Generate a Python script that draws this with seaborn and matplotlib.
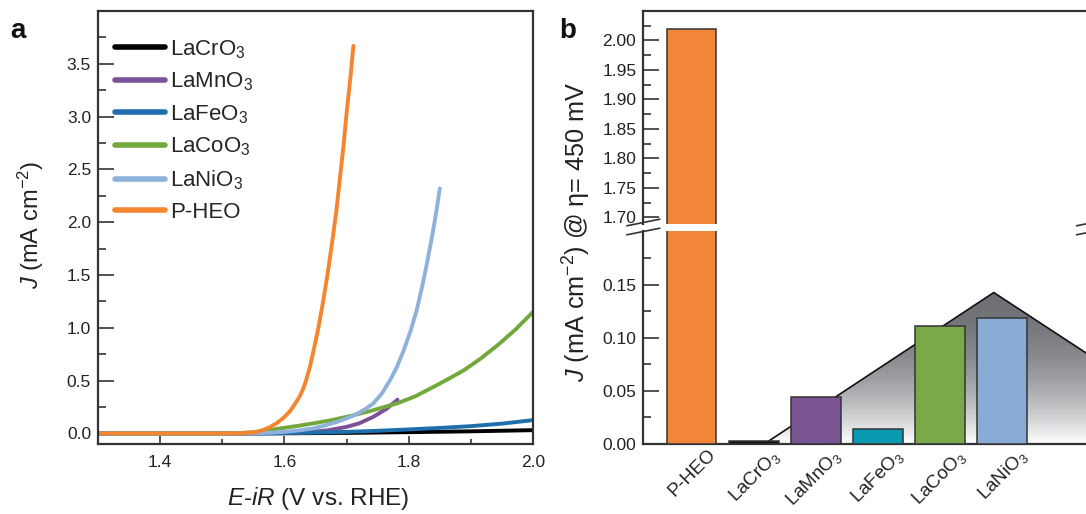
import numpy as np
import pandas as pd
import matplotlib
matplotlib.use("Agg")
import matplotlib.pyplot as plt
import matplotlib.transforms as mtransforms
import seaborn as sns
from matplotlib.lines import Line2D
from matplotlib.patches import Polygon
from matplotlib.ticker import FormatStrFormatter

# ---------------- data: panel a (LSV curves) ----------------
samples = ["LaCrO3", "LaMnO3", "LaFeO3", "LaCoO3", "LaNiO3", "P-HEO"]
sample_labels = ["LaCrO$_3$", "LaMnO$_3$", "LaFeO$_3$", "LaCoO$_3$", "LaNiO$_3$", "P-HEO"]
line_colors = ["#000000", "#7a5195", "#1f6fad", "#73a83c", "#8fb2dc", "#f5852f"]

v_cr = [1.30, 1.50, 1.60, 1.70, 1.80, 1.90, 2.00]
j_cr = [0.0, 0.0, 0.001, 0.005, 0.012, 0.020, 0.031]

v_mn = [1.30, 1.55, 1.60, 1.625, 1.646, 1.67, 1.70, 1.72, 1.743, 1.765, 1.782]
j_mn = [0.0, 0.0, 0.004, 0.008, 0.015, 0.030, 0.062, 0.095, 0.157, 0.236, 0.32]

v_fe = [1.30, 1.55, 1.60, 1.65, 1.70, 1.75, 1.80, 1.85, 1.90, 1.95, 2.00]
j_fe = [0.0, 0.0, 0.003, 0.008, 0.015, 0.025, 0.038, 0.052, 0.069, 0.093, 0.126]

v_co = [1.30, 1.50, 1.53, 1.55, 1.57, 1.592, 1.62, 1.646, 1.675, 1.70, 1.74, 1.781,
        1.81, 1.835, 1.862, 1.889, 1.916, 1.943, 1.972, 2.00]
j_co = [0.0, 0.0, 0.005, 0.012, 0.025, 0.047, 0.070, 0.095, 0.125, 0.157, 0.215, 0.284,
        0.35, 0.426, 0.51, 0.599, 0.71, 0.835, 0.985, 1.15]

v_ni = [1.30, 1.55, 1.575, 1.60, 1.625, 1.646, 1.665, 1.685, 1.70, 1.715, 1.73, 1.743,
        1.757, 1.770, 1.781, 1.792, 1.803, 1.813, 1.822, 1.830, 1.838, 1.845, 1.850]
j_ni = [0.0, 0.0, 0.006, 0.015, 0.030, 0.047, 0.075, 0.11, 0.142, 0.18, 0.23, 0.284,
        0.38, 0.504, 0.63, 0.788, 0.97, 1.17, 1.40, 1.63, 1.88, 2.12, 2.32]

v_pheo = [1.30, 1.50, 1.53, 1.543, 1.555, 1.565, 1.576, 1.587, 1.598, 1.608, 1.616, 1.624,
          1.630, 1.635, 1.641, 1.646, 1.654, 1.662, 1.670, 1.678, 1.684, 1.689, 1.695,
          1.700, 1.706, 1.711]
j_pheo = [0.0, 0.0, 0.002, 0.006, 0.015, 0.031, 0.058, 0.095, 0.145, 0.204, 0.27, 0.346,
          0.42, 0.504, 0.63, 0.76, 0.98, 1.24, 1.53, 1.86, 2.13, 2.40, 2.72,
          3.03, 3.36, 3.67]

# ---------------- data: panel b (bars) ----------------
bar_names = ["P-HEO", "LaCrO3", "LaMnO3", "LaFeO3", "LaCoO3", "LaNiO3"]
bar_labels = ["P-HEO", "LaCrO$_3$", "LaMnO$_3$", "LaFeO$_3$", "LaCoO$_3$", "LaNiO$_3$"]
bar_values = [2.019, 0.003, 0.0445, 0.0144, 0.1108, 0.1186]
bar_colors = ["#f28638", "#111111", "#7b5593", "#0a9ab2", "#7ba848", "#8aabd5"]

# volcano-shaped guide behind the bars
tri_x = [1.17, 4.87, 8.6]
tri_y = [0.0, 0.1428, 0.0]

# ---------------- style ----------------
sns.set_theme(style="ticks")
plt.rcParams["font.family"] = ["Liberation Sans", "DejaVu Sans"]
plt.rcParams.update({
    "mathtext.fontset": "custom",
    "mathtext.rm": "Liberation Sans",
    "mathtext.it": "Liberation Sans:italic",
    "mathtext.bf": "Liberation Sans:bold",
    "axes.edgecolor": "#333333",
    "xtick.color": "#333333",
    "ytick.color": "#333333",
    "xtick.labelcolor": "#222222",
    "ytick.labelcolor": "#222222",
})

W, H = 1086, 514
fig = plt.figure(figsize=(W / 100, H / 100), dpi=100)
fig.patch.set_facecolor("white")


def fx(px):
    return px / W


def fy(py):
    return 1 - py / H


# ================= panel a =================
axA = fig.add_axes([fx(98), fy(444), fx(435), 433 / H])
frames = []
for name, v, j in zip(samples, [v_cr, v_mn, v_fe, v_co, v_ni, v_pheo],
                      [j_cr, j_mn, j_fe, j_co, j_ni, j_pheo]):
    frames.append(pd.DataFrame({"V": v, "J": j, "sample": name}))
df = pd.concat(frames, ignore_index=True)
sns.lineplot(data=df, x="V", y="J", hue="sample", hue_order=samples,
             palette=dict(zip(samples, line_colors)), sort=False, estimator=None,
             lw=2.8, ax=axA, legend=False)
for ln in axA.get_lines():
    ln.set_solid_joinstyle("round")
axA.set_xlim(1.3, 2.0)
axA.set_ylim(-0.1, 4.0)
axA.set_xticks([1.4, 1.6, 1.8, 2.0])
axA.set_xticks([1.5, 1.7, 1.9], minor=True)
axA.set_yticks(np.arange(0, 3.51, 0.5))
axA.set_yticks(np.arange(0.25, 3.9, 0.5), minor=True)
axA.yaxis.set_major_formatter(FormatStrFormatter("%.1f"))
axA.xaxis.set_major_formatter(FormatStrFormatter("%.1f"))
axA.tick_params(axis="y", which="major", direction="in", length=11.5, width=1.2, labelsize=12.5, pad=5)
axA.tick_params(axis="y", which="minor", direction="in", length=5.8, width=1.2)
axA.tick_params(axis="x", which="major", direction="in", length=5.5, width=1.2, labelsize=12.5, pad=8)
axA.tick_params(axis="x", which="minor", direction="in", length=3.6, width=1.2)
for s in axA.spines.values():
    s.set_linewidth(1.6)
axA.set_xlabel("")
axA.set_ylabel("")

handles = [Line2D([0], [0], color=c, lw=4) for c in line_colors]
axA.legend(handles, sample_labels, loc="upper left", bbox_to_anchor=((115 - 98) / 435, 1 - 27 / 433),
           frameon=False, fontsize=16, handlelength=2.25, handletextpad=0.22,
           labelspacing=0.45, borderpad=0, borderaxespad=0)

fig.text(fx(31), fy(225), "$J$ (mA cm$^{-2}$)", rotation=90, ha="center", va="center",
         fontsize=17, color="#222222")
fig.text(fx(318), fy(499), "$E$-$iR$ (V vs. RHE)", ha="center", va="center",
         fontsize=17.5, color="#222222")

# ================= panel b =================
b_left = fx(643.3)
b_width = fx(449.7)
axLo = fig.add_axes([b_left, fy(444), b_width, 213 / H])
axHi = fig.add_axes([b_left, fy(224), b_width, 213 / H])

for ax in (axLo, axHi):
    sns.barplot(x=bar_names, y=bar_values, hue=bar_names, palette=bar_colors,
                legend=False, width=0.8, saturation=1, edgecolor="#333333",
                linewidth=1.1, ax=ax, zorder=3)
    ax.set_xlim(-0.78, 6.47)
    for s in ax.spines.values():
        s.set_linewidth(1.6)

# gradient triangle (volcano) on lower axis
ny = 300
ys = np.linspace(0, tri_y[1], ny)
t = 1 - (1 - ys / 0.145) ** 2
dark = np.array([110, 112, 117]) / 255.0
img = np.ones((ny, 2, 3))
for k in range(3):
    img[:, :, k] = (1 - t[:, None]) * 1.0 + t[:, None] * dark[k]
im = axLo.imshow(img, extent=[tri_x[0], tri_x[2], 0, tri_y[1]], origin="lower",
                 aspect="auto", zorder=1, interpolation="bilinear")
tri = Polygon(list(zip(tri_x, tri_y)), closed=True, facecolor="none", edgecolor="none",
              transform=axLo.transData)
axLo.add_patch(tri)
im.set_clip_path(tri)
axLo.plot(tri_x, tri_y, color="#111111", lw=1.2, zorder=2)
axLo.set_xlim(-0.78, 6.47)

axLo.set_ylim(0, 0.2008)
axHi.set_ylim(1.6886, 2.05)

axLo.spines["top"].set_visible(False)
axHi.spines["bottom"].set_visible(False)
axHi.tick_params(axis="x", which="both", bottom=False, labelbottom=False)

axLo.set_yticks([0, 0.05, 0.10, 0.15])
axLo.set_yticks([0.025, 0.075, 0.125, 0.175], minor=True)
axHi.set_yticks(np.round(np.arange(1.70, 2.001, 0.05), 2))
axHi.set_yticks(np.round(np.arange(1.725, 2.03, 0.05), 3), minor=True)
for ax in (axLo, axHi):
    ax.yaxis.set_major_formatter(FormatStrFormatter("%.2f"))
    ax.tick_params(axis="y", which="major", direction="in", length=11.5, width=1.2,
                   labelsize=12.5, pad=5, right=False)
    ax.tick_params(axis="y", which="minor", direction="in", length=5.8, width=1.2, right=False)
    ax.set_xlabel("")
    ax.set_ylabel("")

axLo.set_xticks(range(len(bar_names)))
axLo.set_xticklabels(bar_labels, rotation=45, ha="right", rotation_mode="anchor", fontsize=13.5)
axLo.tick_params(axis="x", which="both", length=0, pad=3)
shift = mtransforms.ScaledTranslation(16 / 100, 2 / 100, fig.dpi_scale_trans)
for lab in axLo.get_xticklabels():
    lab.set_transform(lab.get_transform() + shift)

# break marks
for cx in (643.3, 1093.0):
    for cy in (222.5, 231.5):
        fig.add_artist(Line2D([fx(cx - 16.5), fx(cx + 16.5)], [fy(cy + 3.3), fy(cy - 3.3)],
                              color="#333333", lw=1.2))

fig.text(fx(577), fy(232), "$J$ (mA cm$^{-2}$) @ η= 450 mV", rotation=90, ha="center",
         va="center", fontsize=18.2, color="#222222")

# panel letters
fig.text(fx(10), fy(38), "a", fontsize=20, fontweight="bold", va="baseline", color="#111111")
fig.text(fx(559), fy(38), "b", fontsize=20, fontweight="bold", va="baseline", color="#111111")

fig.savefig("out.png", dpi=100, facecolor="white")
